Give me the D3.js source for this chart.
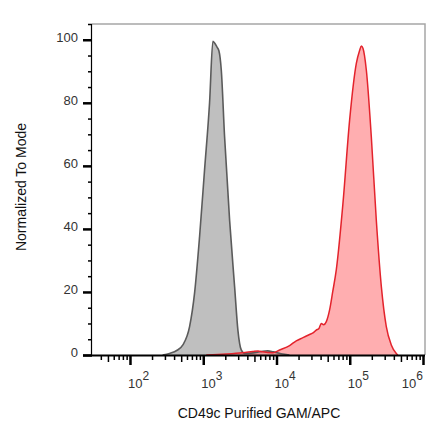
<!DOCTYPE html>
<html>
<head>
<meta charset="utf-8">
<script src="https://cdn.jsdelivr.net/npm/d3@7"></script>
<style>
  body { margin: 0; background: #fff; }
  svg text { font-family: "Liberation Sans", Arial, sans-serif; fill: #333; }
</style>
</head>
<body>
<svg id="canvas"></svg>
<script>
// flow histogram: isotype (grey) vs CD49c stained (red)

let width = 440
let height = 441

// fluorescence intensity / normalized count
let isoX = [279, 347, 440, 527, 651, 762, 891, 1042, 1220, 1355, 1429, 1530, 1636, 1763, 1955, 2290, 2680, 2972, 3304, 3670, 4500, 5500, 6500, 7600, 9000, 11500, 15000]
let isoY = [0, 0.5, 1.5, 3.2, 9, 19.7, 37.5, 58.7, 80, 99.5, 99, 97.8, 96.5, 90.4, 69.3, 42.8, 21.7, 7.9, 1.6, 0.5, 0.6, 0.9, 1.2, 1.3, 1.0, 0.4, 0]

let cdX = [1100, 2065, 3440, 4720, 5600, 6460, 8930, 11020, 15100, 18620, 23000, 28300, 31500, 34900, 38000, 40900, 44000, 47900, 53100, 58500, 65500, 80700, 99700, 123000, 136000, 143900, 151500, 168400, 196900, 230400, 270000, 315600, 369000, 432000, 455000]
let cdY = [0, 0.3, 0.7, 1.1, 1.3, 1.0, 0.7, 1.6, 3.0, 4.5, 5.5, 6.5, 7.0, 7.9, 8.4, 10.0, 9.6, 10.6, 14.3, 20, 27, 48, 74.6, 92.5, 96.5, 98, 97.3, 90.4, 69.3, 42.8, 21.7, 9, 3.2, 0.5, 0]

let xDecades = [100, 1000, 10000, 100000, 1000000]
let xExponents = ['2', '3', '4', '5', '6']
let yMajor = [0, 20, 40, 60, 80, 100]
let yMinor = [5, 10, 15, 25, 30, 35, 45, 50, 55, 65, 70, 75, 85, 90, 95, 105]

let isoData = isoX.map((x, i) => ({ x: x, y: isoY[i] }))
let cdData = cdX.map((x, i) => ({ x: x, y: cdY[i] }))

let svg = d3.select('#canvas')
            .attr('width', width)
            .attr('height', height)

let plotLeft = 92, plotRight = 425, plotTop = 24, plotBottom = 355

let xScale = d3.scaleLog()
               .domain([30.3, 1065000])
               .range([plotLeft, plotRight])

let yScale = d3.scaleLinear()
               .domain([0, 105])
               .range([plotBottom, plotTop])

let area = d3.area()
             .x(d => xScale(d.x))
             .y0(yScale(0))
             .y1(d => yScale(d.y))
             .curve(d3.curveMonotoneX)

let line = d3.line()
             .x(d => xScale(d.x))
             .y(d => yScale(d.y))
             .curve(d3.curveMonotoneX)

// frame (top & right)
svg.append('path')
   .attr('d', `M${plotLeft},${plotTop}H${plotRight}V${plotBottom}`)
   .attr('fill', 'none')
   .attr('stroke', '#a6a6a6')
   .attr('stroke-width', 1.5)

// fills then outlines
svg.append('path').datum(isoData)
   .attr('d', area)
   .attr('fill', '#bfbfbf')

svg.append('path').datum(cdData)
   .attr('d', area)
   .attr('fill', '#ff8c8f')
   .attr('fill-opacity', 0.7)

svg.append('path').datum(isoData)
   .attr('d', line)
   .attr('fill', 'none')
   .attr('stroke', '#5b5b5b')
   .attr('stroke-width', 1.6)

svg.append('path').datum(cdData)
   .attr('d', line)
   .attr('fill', 'none')
   .attr('stroke', '#e3232c')
   .attr('stroke-width', 1.5)

// x minor ticks
let minorVals = []
let midVals = []
for (let d = 10; d < 1000000; d *= 10) {
  for (let m = 2; m <= 9; m++) {
    let v = d * m
    if (v < 30.3 || v > 1065000) continue
    if (m === 5) midVals.push(v)
    else minorVals.push(v)
  }
}

let xAxisG = svg.append('g').attr('transform', `translate(0,${plotBottom})`)

xAxisG.append('g')
      .call(d3.axisBottom(xScale).tickValues(minorVals).tickSize(5).tickFormat(''))
      .call(g => g.selectAll('line').attr('stroke', '#000').attr('stroke-width', 1.5))
      .call(g => g.select('.domain').remove())

xAxisG.append('g')
      .call(d3.axisBottom(xScale).tickValues(midVals).tickSize(7).tickFormat(''))
      .call(g => g.selectAll('line').attr('stroke', '#000').attr('stroke-width', 1.5))
      .call(g => g.select('.domain').remove())

xAxisG.append('g')
      .call(d3.axisBottom(xScale).tickValues(xDecades).tickSize(10).tickFormat(''))
      .call(g => g.selectAll('line').attr('stroke', '#000').attr('stroke-width', 2.5))
      .call(g => g.select('.domain').attr('d', `M${plotLeft - 9},0.5H${plotRight}`).attr('stroke', '#000').attr('stroke-width', 2))

// decade labels as 10 with superscript
xDecades.forEach((v, i) => {
  let last = i === xDecades.length - 1
  let t = svg.append('text')
             .attr('x', last ? xScale(v) : xScale(v) - 2)
             .attr('y', 388)
             .attr('text-anchor', last ? 'end' : 'start')
             .style('font-size', '13px')
  t.append('tspan').text('10')
  t.append('tspan').attr('dy', -8).style('font-size', '12px').text(xExponents[i])
})

// y axis
let yAxisG = svg.append('g').attr('transform', `translate(${plotLeft},0)`)

yAxisG.append('g')
      .call(d3.axisLeft(yScale).tickValues(yMinor).tickSize(4).tickFormat(''))
      .call(g => g.selectAll('line').attr('stroke', '#000').attr('stroke-width', 1.5))
      .call(g => g.select('.domain').remove())

yAxisG.append('g')
      .call(d3.axisLeft(yScale).tickValues(yMajor).tickSize(9).tickPadding(5))
      .call(g => g.selectAll('line').attr('stroke', '#000').attr('stroke-width', 2.5))
      .call(g => g.select('.domain').attr('d', `M-0.5,${plotBottom}V${plotTop}`).attr('stroke', '#000').attr('stroke-width', 1.2))
      .call(g => g.selectAll('text').style('font-size', '13px').attr('fill', '#333').attr('font-family', null).attr('dy', '0.1em'))

// titles
svg.append('text')
   .attr('x', 259)
   .attr('y', 418)
   .attr('text-anchor', 'middle')
   .style('font-size', '14px')
   .style('fill', '#111')
   .text('CD49c Purified GAM/APC')

svg.append('text')
   .attr('transform', 'translate(26,187) rotate(-90)')
   .attr('text-anchor', 'middle')
   .style('font-size', '14px')
   .style('fill', '#111')
   .text('Normalized To Mode')
</script>
</body>
</html>
